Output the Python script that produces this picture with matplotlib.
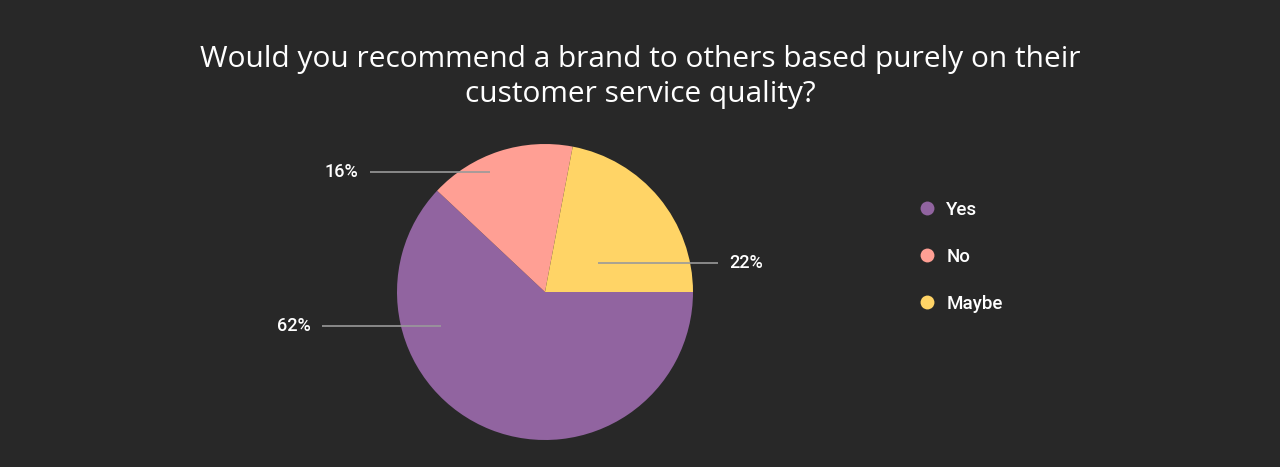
import matplotlib.pyplot as plt
from matplotlib.lines import Line2D

#################### Data
labels = ['Yes', 'No', 'Maybe']
shares = [62, 16, 22]
colors = ['#9164a0', '#ff9f94', '#ffd466']

title = 'Would you recommend a brand to others based purely on their\ncustomer service quality?'

#################### Style
bg = '#282828'
txt = '#ffffff'
line_col = '#9a9a9a'

W, H = 1280, 467
fig = plt.figure(figsize=(W / 100, H / 100), dpi=100, facecolor=bg)
ax = fig.add_axes((0, 0, 1, 1))
ax.set_facecolor(bg)

# pie in pixel space
cx, cy, r = 545, H - 292, 148
wedges, _ = ax.pie(shares, colors=colors, startangle=0, counterclock=False,
                   center=(cx, cy), radius=r, frame=True,
                   wedgeprops=dict(linewidth=0))
ax.set_xlim(0, W)
ax.set_ylim(0, H)
ax.set_aspect('equal')
ax.axis('off')

# leader lines: (x_start, x_end, y, label x, ha) per slice
leaders = [(441, 322, 326, 311, 'right'),
           (490, 370, 172, 358, 'right'),
           (598, 718, 263, 729, 'left')]
for share, (x0, x1, y, tx, ha) in zip(shares, leaders):
    ax.plot([x0, x1], [H - y, H - y], color=line_col, lw=1.2, solid_capstyle='butt')
    ax.text(tx, H - y, f'{share}%', color=txt, fontsize=13, fontfamily='Roboto',
            fontweight='medium', ha=ha, va='center')

# title
fig.text(0.5, 1 - 77 / H, title, color=txt, fontsize=21.5, fontfamily='Open Sans',
         ha='center', va='center', linespacing=1.25)

# legend
handles = [Line2D([], [], marker='o', ls='', markersize=10, markerfacecolor=c,
                  markeredgewidth=0) for c in colors]
leg = fig.legend(handles, labels, loc='upper left',
                 bbox_to_anchor=(903 / W, 1 - 184 / H), frameon=False,
                 labelcolor=txt, handlelength=0.8, handletextpad=0.6,
                 labelspacing=1.55,
                 prop={'family': 'Roboto', 'size': 13.5, 'weight': 'medium'})

plt.savefig('out.png', dpi=100, facecolor=bg)
